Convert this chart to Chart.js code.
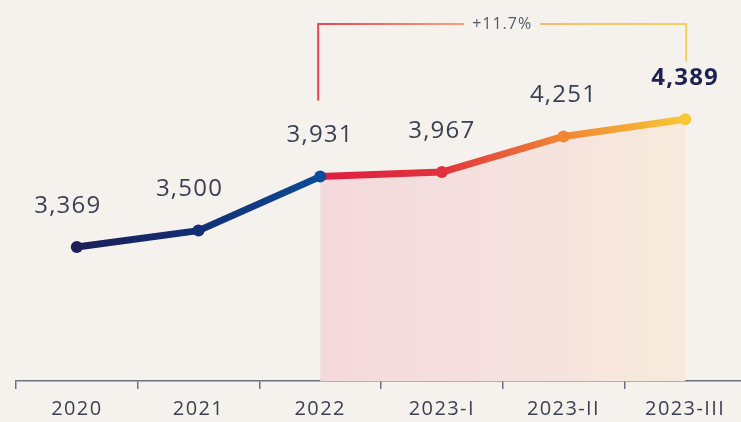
<!DOCTYPE html>
<html>
<head>
<meta charset="utf-8">
<script src="https://cdn.jsdelivr.net/npm/chart.js@4.4.1/dist/chart.umd.min.js"></script>
<style>
  html, body { margin: 0; padding: 0; background: #f5f2ee; overflow: hidden; }
  #wrap { width: 746px; height: 422px; position: relative; }
</style>
</head>
<body>
<div id="wrap"><canvas id="c"></canvas></div>
<script>
const categories = ['2020', '2021', '2022', '2023-I', '2023-II', '2023-III'];
const values = [3369, 3500, 3931, 3967, 4251, 4389];
const highlightFrom = 2; // index where the highlighted period starts
const pointColors = ['#1b1e58', '#132f74', '#0b4b98', '#e2323d', '#f08634', '#f7c735'];
const highlightStartColor = '#de1f41';

const FONT = "'Open Sans', 'Noto Sans', sans-serif";
const fillValues = values.map((v, i) => i >= highlightFrom ? v : null);

function lineGradient(ctx) {
  const chart = ctx.chart;
  if (!chart.chartArea || !chart.scales.x) return pointColors[0];
  const x = chart.scales.x;
  const x0 = x.getPixelForValue(0);
  const x1 = x.getPixelForValue(values.length - 1);
  const g = chart.ctx.createLinearGradient(x0, 0, x1, 0);
  const span = x1 - x0;
  const pos = i => (x.getPixelForValue(i) - x0) / span;
  for (let i = 0; i < values.length; i++) {
    const p = pos(i);
    if (i === highlightFrom) {
      g.addColorStop(p, pointColors[i]);
      g.addColorStop(Math.min(1, p + 0.002), highlightStartColor);
    } else {
      g.addColorStop(p, pointColors[i]);
    }
  }
  return g;
}

function fillGradient(ctx) {
  const chart = ctx.chart;
  if (!chart.chartArea || !chart.scales.x) return 'rgba(244,221,224,1)';
  const x = chart.scales.x;
  const a = x.getPixelForValue(highlightFrom);
  const b = x.getPixelForValue(values.length - 1);
  const g = chart.ctx.createLinearGradient(a, 0, b, 0);
  g.addColorStop(0, '#f4d9dc');
  g.addColorStop(0.5, '#f5e1df');
  g.addColorStop(1, '#f7eadb');
  return g;
}

const spacingPlugin = {
  id: 'spacing',
  beforeDraw(chart) { chart.ctx.letterSpacing = '1.4px'; },
  afterDraw(chart) { chart.ctx.letterSpacing = '0px'; }
};

const labelPlugin = {
  id: 'valueLabels',
  afterDatasetsDraw(chart) {
    const meta = chart.getDatasetMeta(0);
    const ctx = chart.ctx;
    ctx.save();
    ctx.letterSpacing = '1.2px';
    ctx.textAlign = 'center';
    ctx.textBaseline = 'middle';
    meta.data.forEach((el, i) => {
      const last = i === values.length - 1;
      ctx.font = (last ? '700 ' : '400 ') + '24px ' + FONT;
      ctx.fillStyle = last ? '#1f2250' : '#3b3f52';
      const dx = i < highlightFrom ? -9 : 0;
      ctx.fillText(values[i].toLocaleString('en-US'), el.x + dx, el.y - 41);
    });
    ctx.restore();
  }
};

const bracketPlugin = {
  id: 'bracket',
  afterDraw(chart) {
    const meta = chart.getDatasetMeta(0);
    const a = meta.data[highlightFrom];
    const b = meta.data[values.length - 1];
    const ctx = chart.ctx;
    const xL = a.x - 2, xR = b.x + 1;
    const yTop = 24, yL = a.y - 76, yR = b.y - 58;
    const pct = (values[values.length - 1] / values[highlightFrom] - 1) * 100;
    const text = '+' + pct.toFixed(1) + '%';
    ctx.save();
    ctx.letterSpacing = '1px';
    ctx.font = '400 16px ' + FONT;
    const tw = ctx.measureText(text).width;
    const cx = (xL + xR) / 2;
    const g = ctx.createLinearGradient(xL, 0, xR, 0);
    g.addColorStop(0, '#e5455a');
    g.addColorStop(0.35, '#ef9a78');
    g.addColorStop(0.7, '#f3c46a');
    g.addColorStop(1, '#f4cf5e');
    ctx.strokeStyle = g;
    ctx.lineWidth = 2;
    ctx.beginPath();
    ctx.moveTo(xL, yL);
    ctx.lineTo(xL, yTop);
    ctx.lineTo(cx - tw / 2 - 8, yTop);
    ctx.moveTo(cx + tw / 2 + 8, yTop);
    ctx.lineTo(xR, yTop);
    ctx.lineTo(xR, yR);
    ctx.stroke();
    ctx.fillStyle = '#55586a';
    ctx.textAlign = 'center';
    ctx.textBaseline = 'middle';
    ctx.fillText(text, cx, yTop);
    ctx.restore();
  }
};

new Chart(document.getElementById('c'), {
  type: 'line',
  data: {
    labels: categories,
    datasets: [
      {
        data: values,
        borderColor: lineGradient,
        borderWidth: 7,
        tension: 0,
        pointRadius: 6,
        pointBorderWidth: 0,
        pointBackgroundColor: pointColors,
        pointHoverRadius: 6,
        fill: false,
        order: 0,
        borderCapStyle: 'round',
        borderJoinStyle: 'round'
      },
      {
        data: fillValues,
        borderWidth: 0,
        pointRadius: 0,
        backgroundColor: fillGradient,
        fill: 'start',
        tension: 0,
        order: 1,
        spanGaps: false
      }
    ]
  },
  options: {
    responsive: true,
    maintainAspectRatio: false,
    animation: false,
    events: [],
    layout: { autoPadding: false, padding: { left: 16, right: 0, top: 0, bottom: 0 } },
    plugins: { legend: { display: false }, tooltip: { enabled: false } },
    scales: {
      x: {
        offset: true,
        afterFit(scale) { scale.height = 41; },
        grid: {
          offset: true,
          drawOnChartArea: false,
          drawTicks: true,
          tickLength: 8,
          color: '#6d7180',
          lineWidth: 1.5
        },
        border: { display: true, color: '#6d7180', width: 1.5 },
        ticks: {
          color: '#3b3f52',
          font: { family: FONT, size: 20, weight: '400' },
          padding: 8,
          maxRotation: 0,
          autoSkip: false
        }
      },
      y: {
        display: false,
        min: 2300,
        max: 5340
      }
    }
  },
  plugins: [spacingPlugin, labelPlugin, bracketPlugin]
});
</script>
</body>
</html>
